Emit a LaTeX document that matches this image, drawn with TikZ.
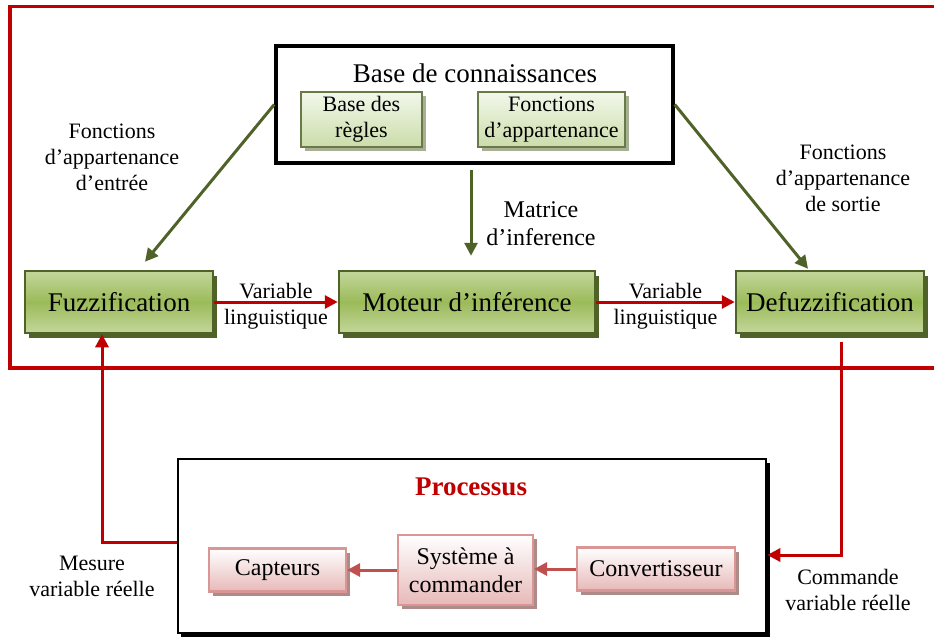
\documentclass[tikz,border=0pt]{standalone}
\usepackage{fontspec}
\setmainfont{Liberation Serif}
\usetikzlibrary{arrows.meta,shadows,calc}
\definecolor{rouge}{HTML}{C00000}
\definecolor{vertfonce}{HTML}{4F6228}
\definecolor{vertclair}{HTML}{C3D69B}
\definecolor{vertmoyen}{HTML}{9BBB59}
\definecolor{rose}{HTML}{C0504D}
\definecolor{roseclair}{HTML}{E6B9B8}
\newcommand{\grand}{\fontsize{27}{30}\selectfont}
\newcommand{\moyen}{\fontsize{24}{28}\selectfont}
\newcommand{\petit}{\fontsize{22}{26}\selectfont}
\begin{document}
\begin{tikzpicture}[x=1pt,y=-1pt,
  gbox/.style={draw=vertfonce,line width=2.5pt,top color=vertclair,bottom color=vertclair,
    middle color=vertmoyen,minimum height=62pt,inner sep=0pt,font=\grand,
    drop shadow={shadow xshift=4pt,shadow yshift=-5pt,fill=vertfonce,opacity=1}},
  lbox/.style={draw=vertfonce!85,line width=2.2pt,top color=green!30!olive!8,bottom color=vertclair!85,
    minimum height=55pt,inner sep=0pt,align=center,font=\petit,
    drop shadow={shadow xshift=4pt,shadow yshift=-4pt,fill=vertfonce!50,opacity=1}},
  pbox/.style={draw=rose!60,line width=2.2pt,top color=white,bottom color=roseclair,
    inner sep=0pt,align=center,font=\moyen,
    drop shadow={shadow xshift=4pt,shadow yshift=-4pt,fill=rose!40!gray!80,opacity=1}},
  garrow/.style={vertfonce,line width=3pt,-{Triangle[length=13pt,width=13pt]}},
  rarrow/.style={rouge,line width=3pt,-{Triangle[length=13pt,width=13pt]}},
  parrow/.style={rose,line width=3pt,-{Triangle[length=13pt,width=13pt]}},
  lab/.style={align=center,font=\petit,inner sep=0pt,text=black}]
  \useasboundingbox (0,0) rectangle (934,637);
  % cadre du controleur flou
  \draw[rouge,line width=3.5pt] (950,6.5) -- (10,6.5) -- (10,368) -- (950,368);
  % base de connaissances
  \node[draw,line width=3.5pt,minimum width=397pt,minimum height=117pt] (kb) at (474.5,104.5) {};
  \node[font=\grand,inner sep=0pt] (kbtitre) at (475,73) {Base de connaissances};
  \node[lbox,minimum width=121pt] (regles) at (361.5,119.5) {Base des\\règles};
  \node[lbox,minimum width=147pt] (fonctions) at (551.5,119.5) {Fonctions\\d’appartenance};
  % blocs principaux
  \node[gbox,minimum width=188pt] (fuzz) at (119,302) {Fuzzification};
  \node[gbox,minimum width=256pt] (moteur) at (467,302) {Moteur d’inférence};
  \node[gbox,minimum width=188pt] (defuzz) at (830,302) {Defuzzification};
  \draw[garrow] (kb.west) -- ($(fuzz.north)+(26,-8)$);
  \draw[garrow] ($(kb.south)+(-3.5,5)$) -- ($(moteur.north)+(4,-14)$);
  \draw[garrow] (kb.east) -- ($(defuzz.north)+(-22,-1)$);
  \node[lab] (fentree) at (112,157) {Fonctions\\d’appartenance\\d’entrée};
  \node[lab,font=\moyen] (matrice) at (541,224) {Matrice\\d’inference};
  \node[lab] (fsortie) at (843,178) {Fonctions\\d’appartenance\\de sortie};
  \draw[rarrow] (fuzz.east) -- (moteur.west)
    node[midway,lab,yshift=-4pt] {Variable\\linguistique};
  \draw[rarrow] (moteur.east) -- (defuzz.west)
    node[midway,lab,yshift=-4pt] {Variable\\linguistique};
  % processus
  \fill (181,463) rectangle (770,637);
  \node[draw,fill=white,line width=2.5pt,minimum width=588pt,minimum height=174pt] (proc) at (472,546) {};
  \node[font=\grand\bfseries,text=rouge,inner sep=0pt] (proctitre) at (471,487) {Processus};
  \node[pbox,minimum width=137pt,minimum height=43pt] (capteurs) at (277.5,570) {Capteurs};
  \node[pbox,minimum width=135pt,minimum height=70pt] (systeme) at (465.5,570) {Système à\\commander};
  \node[pbox,minimum width=158pt,minimum height=43pt] (conv) at (656,569) {Convertisseur};
  \draw[parrow] (conv.west) -- (systeme.east |- conv.west);
  \draw[parrow] (systeme.west) -- (capteurs.east);
  % boucle
  \draw[rarrow] ($(proc.west)+(0,-4)$) -| ($(fuzz.south)+(-17,0)$);
  \draw[rarrow] ($(defuzz.south)+(11,8)$) |- ($(proc.east)+(0,9)$);
  \node[lab] (mesure) at (92,576) {Mesure\\variable réelle};
  \node[lab] (commande) at (848,590) {Commande\\variable réelle};
\end{tikzpicture}
\end{document}
